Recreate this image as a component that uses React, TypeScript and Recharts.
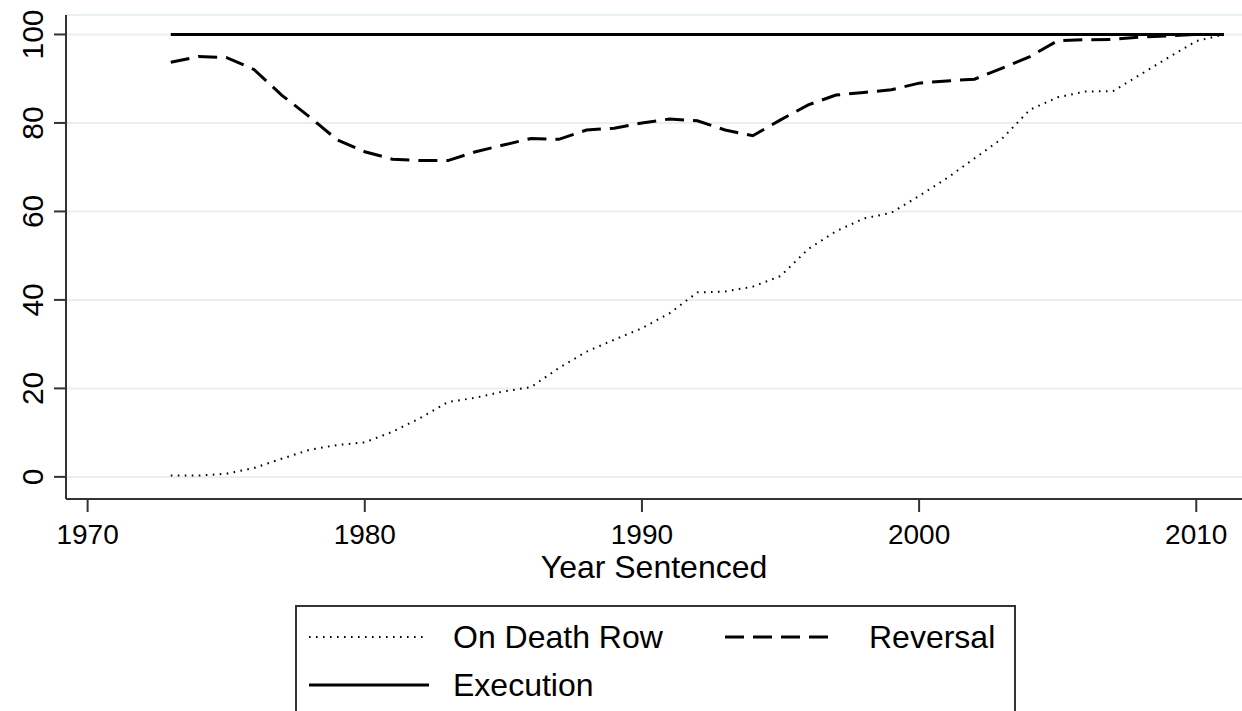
import { LineChart, Line, XAxis, YAxis, CartesianGrid, Legend, Label } from "recharts";

const years = [
  1973, 1974, 1975, 1976, 1977, 1978, 1979, 1980, 1981, 1982, 1983, 1984, 1985,
  1986, 1987, 1988, 1989, 1990, 1991, 1992, 1993, 1994, 1995, 1996, 1997, 1998,
  1999, 2000, 2001, 2002, 2003, 2004, 2005, 2006, 2007, 2008, 2009, 2010, 2011,
];

const onDeathRow = [
  0.3, 0.3, 0.7, 2.0, 4.1, 6.1, 7.2, 7.8, 10.2, 13.3, 16.9, 17.9, 19.3,
  20.3, 24.6, 28.3, 31.0, 33.6, 37.0, 41.7, 41.9, 43.0, 45.4, 51.5, 55.5, 58.4,
  59.7, 63.5, 67.5, 72.0, 76.5, 83.0, 85.8, 87.1, 87.2, 91.0, 94.8, 98.5, 100,
];

const reversal = [
  93.7, 95.0, 94.8, 92.1, 86.3, 81.4, 76.2, 73.5, 71.8, 71.5, 71.5, 73.5, 75.0,
  76.5, 76.3, 78.4, 78.8, 80.0, 80.9, 80.5, 78.4, 77.1, 80.7, 84.1, 86.3, 86.9,
  87.5, 89.0, 89.5, 89.9, 92.4, 95.0, 98.6, 98.8, 98.9, 99.4, 99.7, 100, 100,
];

const execution = [
  100, 100, 100, 100, 100, 100, 100, 100, 100, 100, 100, 100, 100,
  100, 100, 100, 100, 100, 100, 100, 100, 100, 100, 100, 100, 100,
  100, 100, 100, 100, 100, 100, 100, 100, 100, 100, 100, 100, 100,
];

const xTicks = [1970, 1980, 1990, 2000, 2010];
const yTicks = [0, 20, 40, 60, 80, 100];

const data = years.map((year, i) => ({
  year,
  onDeathRow: onDeathRow[i],
  reversal: reversal[i],
  execution: execution[i],
}));

const FONT = "'Liberation Sans', Arial, sans-serif";
const AXIS = "#333";

const series = [
  { key: "onDeathRow", name: "On Death Row", dash: "1.6 5.4", width: 2 },
  { key: "reversal", name: "Reversal", dash: "19 9", width: 3 },
  { key: "execution", name: "Execution", dash: undefined, width: 3 },
];

const YTick = (props: any) => {
  const { x, y, payload } = props;
  const bx = x - 9;
  return (
    <text
      x={bx}
      y={y}
      transform={`rotate(-90, ${bx}, ${y})`}
      textAnchor="middle"
      fontSize={30}
      fontFamily={FONT}
      fill="#000"
    >
      {payload.value}
    </text>
  );
};

const XTick = (props: any) => {
  const { x, y, payload } = props;
  return (
    <text x={x} y={y + 30} textAnchor="middle" fontSize={28} fontFamily={FONT} fill="#000">
      {payload.value}
    </text>
  );
};

const legendPos: Record<string, { sx: number; sw: number; tx: number; cy: number }> = {
  onDeathRow: { sx: 12, sw: 118, tx: 156, cy: 32 },
  reversal: { sx: 428, sw: 110, tx: 572, cy: 32 },
  execution: { sx: 12, sw: 120, tx: 156, cy: 80 },
};

const LegendBox = () => (
  <div
    style={{
      position: "relative",
      width: 721,
      height: 130,
      border: `2px solid ${AXIS}`,
      boxSizing: "border-box",
      background: "#fff",
      fontFamily: FONT,
      fontSize: 32,
      color: "#000",
    }}
  >
    {series.map((s) => {
      const p = legendPos[s.key];
      return (
        <div key={s.key}>
          <svg
            width={p.sw}
            height={8}
            style={{ position: "absolute", left: p.sx, top: p.cy - 6 }}
          >
            <line
              x1={0}
              y1={4}
              x2={p.sw}
              y2={4}
              stroke="#000"
              strokeWidth={s.width}
              strokeDasharray={s.dash}
            />
          </svg>
          <span
            style={{
              position: "absolute",
              left: p.tx,
              top: p.cy - 20,
              lineHeight: "36px",
              whiteSpace: "nowrap",
            }}
          >
            {s.name}
          </span>
        </div>
      );
    })}
  </div>
);

export default function App() {
  return (
    <div style={{ position: "absolute", left: 0, top: 0, width: 1242, height: 711, background: "#fff", overflow: "hidden" }}>
      <LineChart width={1242} height={711} data={data} margin={{ top: 15, right: 0, bottom: 0, left: 0 }}>
        <CartesianGrid horizontal vertical={false} stroke="#e8eff2" strokeWidth={2} />
        <XAxis
          dataKey="year"
          type="number"
          domain={[1969.22, 2011.65]}
          ticks={xTicks}
          allowDataOverflow
          height={212}
          tickSize={13}
          tickLine={{ stroke: AXIS, strokeWidth: 2 }}
          axisLine={{ stroke: AXIS, strokeWidth: 2 }}
          tick={<XTick />}
        >
          <Label
            value="Year Sentenced"
            position="insideTop"
            offset={56}
            style={{ fontSize: 32, fontFamily: FONT, fill: "#000" }}
          />
        </XAxis>
        <YAxis
          type="number"
          domain={[-5, 104.4]}
          ticks={yTicks}
          allowDataOverflow
          width={66}
          tickSize={12}
          tickLine={{ stroke: AXIS, strokeWidth: 2 }}
          axisLine={{ stroke: AXIS, strokeWidth: 2 }}
          tick={<YTick />}
        />
        {series.map((s) => (
          <Line
            key={s.key}
            dataKey={s.key}
            name={s.name}
            type="linear"
            stroke="#000"
            strokeWidth={s.width}
            strokeDasharray={s.dash}
            dot={false}
            activeDot={false}
            isAnimationActive={false}
          />
        ))}
        <Legend
          layout="vertical"
          align="center"
          verticalAlign="middle"
          wrapperStyle={{ left: 295, top: 605, width: 721 }}
          content={<LegendBox />}
        />
      </LineChart>
    </div>
  );
}
